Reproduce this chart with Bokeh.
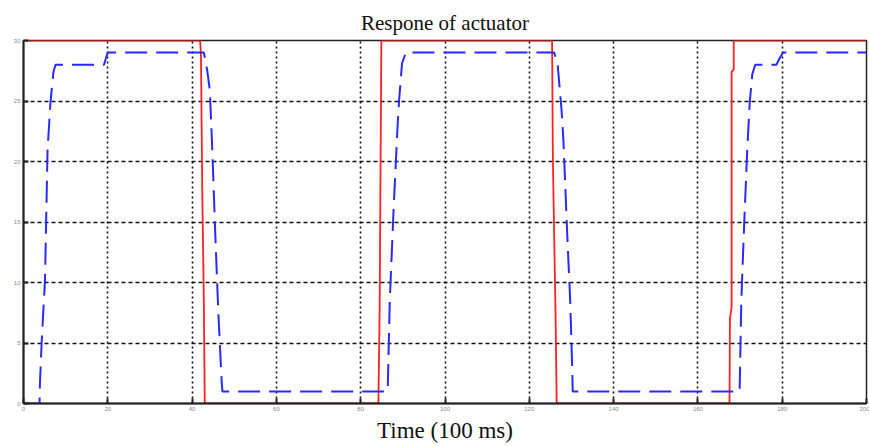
from bokeh.plotting import figure
from bokeh.models import Range1d, FixedTicker
from bokeh.embed import file_html
from bokeh.resources import INLINE

# Reference (command) signal, red
ref_t = [0, 41.9, 42.1, 42.4, 42.8, 43.0, 84.2, 84.5, 84.9, 125.4, 125.6, 126.2, 126.5,
         167.5, 167.6, 168.0, 168.0, 168.5, 168.5, 200]
ref_v = [30, 30, 28.8, 18, 8, 0, 0, 8, 30, 30, 20, 8, 0,
         0, 7, 8, 27.4, 27.6, 30, 30]

# Actuator response, blue dashed
act_t = [0, 3.8, 3.9, 4.3, 5.1, 5.7, 6.4, 7.1, 7.6, 19.1, 19.6, 20.0,
         42.8, 43.6, 44.2, 44.8, 45.5, 46.2, 47.0, 47.2,
         86.4, 86.9, 87.8, 88.7, 89.1, 89.8, 90.7,
         125.9, 126.7, 127.6, 128.1, 129.0, 129.7, 130.2, 130.3,
         169.9, 170.3, 171.0, 171.7, 172.3, 172.9, 173.6, 178.6, 179.5, 180.2, 200]
act_v = [0, 0, 1.65, 5, 10.2, 20.9, 24.9, 27.4, 28, 28, 28.6, 29,
         29, 27.5, 25.9, 20.9, 14, 7.7, 1.9, 1,
         1, 8.5, 16, 22.6, 25, 28.1, 29,
         29, 28.1, 24.5, 21.7, 14, 8.5, 2.7, 1,
         1, 8.5, 15, 20.9, 24.9, 27.2, 28, 28, 28.6, 29, 29]

x_ticks = [0, 20, 40, 60, 80, 100, 120, 140, 160, 180, 200]
y_ticks = [0, 5, 10, 15, 20, 25, 30]

p = figure(width=869, height=446, output_backend="svg", toolbar_location=None,
           x_range=Range1d(0, 200), y_range=Range1d(0, 30),
           title="Respone of actuator", x_axis_label="Time (100 ms)",
           min_border_left=23, min_border_right=3, min_border_top=40, min_border_bottom=43)

p.title.align = "center"
p.title.text_font = "Liberation Serif"
p.title.text_font_size = "21px"
p.title.text_font_style = "normal"
p.title.text_color = "#111111"
p.title.standoff = 12

p.line(ref_t, ref_v, line_color="#ff2020", line_width=1.8)
p.line(act_t, act_v, line_color="#2a2aff", line_width=2, line_dash="22 9")

for ax in (p.xaxis[0], p.yaxis[0]):
    ax.axis_line_color = "#222222"
    ax.axis_line_width = 2
    ax.major_tick_in = 5
    ax.major_tick_out = 0
    ax.major_tick_line_color = "#222222"
    ax.major_tick_line_width = 2
    ax.minor_tick_line_color = None
    ax.major_label_text_font_size = "6px"
    ax.major_label_text_color = "#888888"
    ax.major_label_standoff = 3

p.xaxis.ticker = FixedTicker(ticks=x_ticks)
p.yaxis.ticker = FixedTicker(ticks=y_ticks)
p.xaxis.axis_label_text_font = "Liberation Serif"
p.xaxis.axis_label_text_font_size = "23px"
p.xaxis.axis_label_text_font_style = "normal"
p.xaxis.axis_label_text_color = "#111111"
p.xaxis.axis_label_standoff = 4

p.xgrid.grid_line_color = "#111111"
p.xgrid.grid_line_width = 1.6
p.xgrid.grid_line_dash = "2 3"
p.ygrid.grid_line_color = "#111111"
p.ygrid.grid_line_width = 1.4
p.ygrid.grid_line_dash = "4 3"

p.outline_line_color = "#222222"
p.outline_line_width = 1.5
p.background_fill_color = "white"
p.border_fill_color = "white"

open("out.html", "w").write(file_html(p, INLINE))
